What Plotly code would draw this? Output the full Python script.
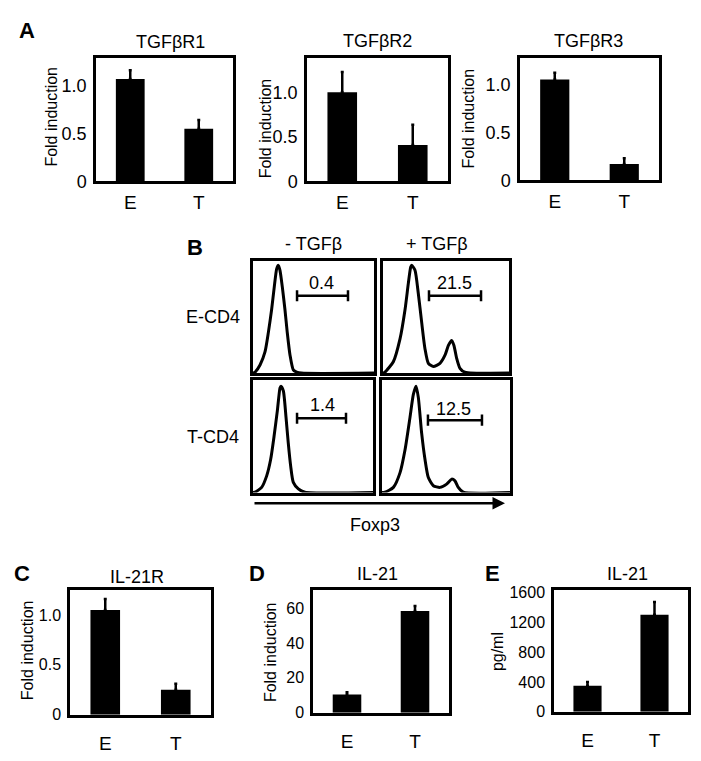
import plotly.graph_objects as go

W, H = 701, 761
FONT = "Liberation Sans, Arial, sans-serif"

# ---------------- data ----------------
groups = ["E", "T"]

A_titles = ["TGFβR1", "TGFβR2", "TGFβR3"]
A1_vals = [1.07, 0.55]; A1_err = [0.09, 0.09]
A2_vals = [1.01, 0.41]; A2_err = [0.23, 0.23]
A3_vals = [1.05, 0.17]; A3_err = [0.07, 0.06]
A_ticks = [0, 0.5, 1.0]
A_ticktext = ["0", "0.5", "1.0"]

C_vals = [1.05, 0.25]; C_err = [0.11, 0.06]
C_ticks = [0, 0.5, 1.0]; C_ticktext = ["0", "0.5", "1.0"]
D_vals = [10.5, 58.3]; D_err = [1.2, 2.8]
D_ticks = [0, 20, 40, 60]
E_vals = [350, 1300]; E_err = [50, 170]
E_ticks = [0, 400, 800, 1200, 1600]

# Foxp3 histograms (x: fluorescence channel 0-100, y: % of max)
TL_x = [0, 1.7, 5.8, 9.9, 12.7, 15.4, 17.6, 19.6, 21.0, 22.3, 24.2, 26.4, 28.3, 30.6, 33.3, 36.1, 40, 100]
TL_y = [0, 0.9, 7.2, 18.8, 36.2, 56.5, 76.8, 92.8, 95.7, 91.3, 76.8, 56.5, 36.2, 15.9, 2.9, 0.9, 0, 0]
TR_x = [0, 1.6, 8.2, 13.5, 17.5, 20.1, 22.0, 22.8, 25.4, 28.0, 30.7, 33.3, 36.0, 40.0, 45.2, 49.2, 51.9, 54.5, 56.3, 58.5, 61.1, 65.0, 100]
TR_y = [0, 0.9, 10.1, 30.4, 56.5, 79.7, 94.2, 95.7, 91.3, 71.0, 45.0, 21.7, 8.7, 5.8, 8.7, 15.9, 24.6, 29.0, 24.6, 13.0, 4.3, 0.9, 0]
BL_x = [0, 1.7, 7.2, 11.4, 14.7, 17.5, 20.3, 22.5, 23.3, 25.3, 27.5, 29.4, 31.4, 33.6, 37.8, 43.3, 100]
BL_y = [0, 0.3, 4.6, 14.8, 29.3, 49.6, 72.8, 93.0, 94.5, 90.2, 67.0, 43.8, 23.5, 9.0, 3.2, 0.3, 0]
BR_x = [0, 2.3, 8.9, 14.1, 18.0, 21.9, 24.5, 26.6, 28.4, 31.0, 33.6, 36.2, 40.1, 45.3, 50.5, 54.4, 57.0, 59.6, 63.5, 100]
BR_y = [0, 0.3, 4.6, 17.7, 38.0, 67.0, 87.2, 94.5, 84.3, 52.5, 29.3, 13.3, 6.1, 4.6, 7.5, 11.9, 10.4, 4.6, 0.3, 0]

gate_pct = ["0.4", "21.5", "1.4", "12.5"]
gate_x = [[36.4, 78.5], [36.5, 77.8], [36.7, 77.5], [35.9, 78.1]]
gate_y = [68.7, 68.7, 66.0, 64.3]
gate_label_xy = [(57.0, 80), (57.0, 80), (57.5, 78), (55.5, 74)]

# ---------------- layout helpers ----------------
def xd(p0, p1):
    return [p0 / W, p1 / W]

def yd(p0, p1):
    return [1 - p1 / H, 1 - p0 / H]

fig = go.Figure()
layout = dict(width=W, height=H, margin=dict(l=0, r=0, t=0, b=0),
              paper_bgcolor="white", plot_bgcolor="white", showlegend=False,
              font=dict(family=FONT, color="black"))
annotations = []

def frame_axis(**kw):
    d = dict(showline=True, mirror=True, linecolor="black", linewidth=2.5,
             showgrid=False, zeroline=False, ticks="", fixedrange=True)
    d.update(kw)
    return d

def bar_panel(idx, xpx, ypx, vals, err, yrange, tickvals, ticktext, tfont, title,
              ylabel, ylabel_xy, title_xy, xstand):
    xa = "x" if idx == 1 else f"x{idx}"
    ya = "y" if idx == 1 else f"y{idx}"
    fig.add_trace(go.Bar(x=groups, y=vals, width=0.42, marker=dict(color="black", line=dict(width=0)),
                         error_y=dict(type="data", symmetric=False, array=err, arrayminus=[0, 0],
                                      color="black", thickness=2.5, width=1.5),
                         xaxis=xa, yaxis=ya))
    layout[f"xaxis{idx}"] = frame_axis(domain=xd(*xpx), anchor=ya, range=[-0.5, 1.5],
                                       type="category", tickfont=dict(size=19),
                                       ticklabelstandoff=xstand)
    layout[f"yaxis{idx}"] = frame_axis(domain=yd(*ypx), anchor=xa, range=yrange,
                                       tickvals=tickvals, ticktext=ticktext,
                                       tickfont=dict(size=tfont), ticklabelstandoff=3)
    annotations.append(dict(text=title, x=title_xy[0] / W, y=1 - title_xy[1] / H,
                            xref="paper", yref="paper", showarrow=False,
                            font=dict(size=18), xanchor="center", yanchor="middle"))
    annotations.append(dict(text=ylabel, x=ylabel_xy[0] / W, y=1 - ylabel_xy[1] / H,
                            xref="paper", yref="paper", showarrow=False, textangle=-90,
                            font=dict(size=16), xanchor="center", yanchor="middle"))

# Panel A
bar_panel(1, (96, 233), (53, 179), A1_vals, A1_err, [0, 1.29], A_ticks, A_ticktext, 18,
          A_titles[0], "Fold induction", (52, 113), (170, 37), 2)
bar_panel(2, (307, 448), (53, 179), A2_vals, A2_err, [0, 1.40], A_ticks, A_ticktext, 18,
          A_titles[1], "Fold induction", (265, 125), (377, 36), 2)
bar_panel(3, (520, 659), (53, 178), A3_vals, A3_err, [0, 1.275], A_ticks, A_ticktext, 18,
          A_titles[2], "Fold induction", (469, 115), (588, 36), 2)

# Panels C, D, E
bar_panel(8, (70, 211), (597, 724), C_vals, C_err, [0, 1.245], C_ticks, C_ticktext, 16,
          "IL-21R", "Fold induction", (27, 658), (137, 583), 10)
bar_panel(9, (313, 449), (597, 722), D_vals, D_err, [0, 70], D_ticks, [str(v) for v in D_ticks], 16,
          "IL-21", "Fold induction", (270, 660), (378, 580), 10)
bar_panel(10, (554, 688), (597, 721), E_vals, E_err, [0, 1626], E_ticks, [str(v) for v in E_ticks], 16,
          "IL-21", "pg/ml", (497, 660), (627, 580), 10)

# Panel B histograms
hist = [
    (4, (253, 374), (260, 375), TL_x, TL_y),
    (5, (383, 509), (260, 375), TR_x, TR_y),
    (6, (253, 373), (382, 497), BL_x, BL_y),
    (7, (382, 510), (382, 497), BR_x, BR_y),
]
for k, (idx, xpx, ypx, hx, hy) in enumerate(hist):
    xa, ya = f"x{idx}", f"y{idx}"
    fig.add_trace(go.Scatter(x=hx, y=hy, mode="lines",
                             line=dict(color="black", width=3, shape="spline", smoothing=0.6),
                             xaxis=xa, yaxis=ya, cliponaxis=True))
    fig.add_trace(go.Scatter(x=gate_x[k], y=[gate_y[k]] * 2, mode="lines+markers",
                             line=dict(color="black", width=2.5),
                             marker=dict(symbol="line-ns", size=8, line=dict(width=2.5, color="black")),
                             xaxis=xa, yaxis=ya))
    layout[f"xaxis{idx}"] = frame_axis(domain=xd(*xpx), anchor=ya, range=[0, 100],
                                       showticklabels=False)
    layout[f"yaxis{idx}"] = frame_axis(domain=yd(*ypx), anchor=xa, range=[0, 100],
                                       showticklabels=False)
    annotations.append(dict(text=gate_pct[k], x=gate_label_xy[k][0], y=gate_label_xy[k][1],
                            xref=xa, yref=ya, showarrow=False, font=dict(size=18),
                            xanchor="center", yanchor="middle"))

# Foxp3 arrow
annotations.append(dict(x=505 / W, y=1 - 508 / H, xref="paper", yref="paper",
                        ax=-252, ay=0, showarrow=True, arrowhead=2, arrowsize=1,
                        arrowwidth=2.5, arrowcolor="black", text=""))

texts = [
    ("A", 27, 25, 22, True), ("B", 195, 247, 22, True), ("C", 22, 580, 22, True),
    ("D", 257, 580, 22, True), ("E", 492, 580, 22, True),
    ("- TGFβ", 313, 243, 18, False), ("+ TGFβ", 437, 243, 18, False),
    ("E-CD4", 213, 318, 18, False), ("T-CD4", 213, 440, 18, False),
    ("Foxp3", 375, 530, 18, False),
]
for t, x, y, s, b in texts:
    annotations.append(dict(text=f"<b>{t}</b>" if b else t, x=x / W, y=1 - y / H,
                            xref="paper", yref="paper", showarrow=False,
                            font=dict(size=s), xanchor="center", yanchor="middle"))

layout["annotations"] = annotations
fig.update_layout(**layout)
fig.write_html("out.html", config={"displayModeBar": False},
               post_script="document.body.style.margin='0px';document.body.style.overflow='hidden';")
